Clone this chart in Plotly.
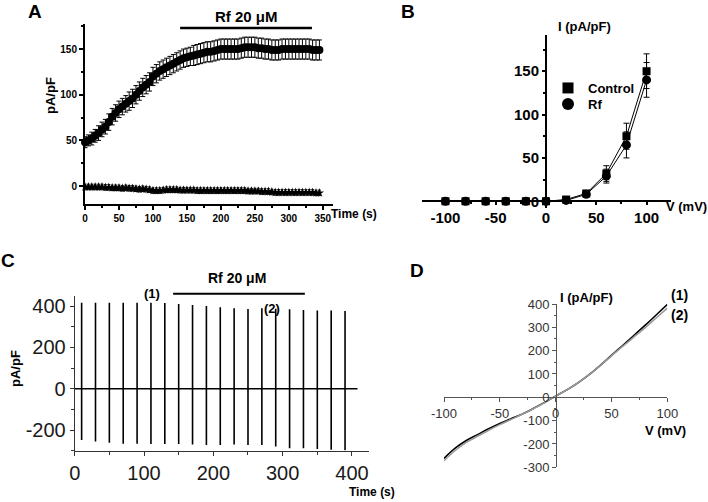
import plotly.graph_objects as go

W, H = 708, 502
FONT = "Arial, Liberation Sans, sans-serif"

# ---------------- Panel A data ----------------
time_a = [0, 5, 10, 15, 20, 25, 30, 35, 40, 45,
          50, 55, 60, 65, 70, 75, 80, 85, 90, 95,
          100, 105, 110, 115, 120, 125, 130, 135, 140, 145,
          150, 155, 160, 165, 170, 175, 180, 185, 190, 195,
          200, 205, 210, 215, 220, 225, 230, 235, 240, 245,
          250, 255, 260, 265, 270, 275, 280, 285, 290, 295,
          300, 305, 310, 315, 320, 325, 330, 335, 340, 345]
outward_a = [48, 50, 52, 55, 58, 62, 65, 70, 76, 80,
             84, 87, 90, 93, 96, 100, 104, 108, 111, 114,
             120, 123, 126, 128, 130, 132, 134, 136, 138, 140,
             141, 142, 143, 144, 145, 146, 147, 147, 148, 149,
             150, 150, 150, 150, 150, 150, 151, 152, 152, 152,
             152, 151, 151, 150, 150, 149, 149, 149, 150, 150,
             150, 150, 150, 150, 150, 150, 150, 149, 149, 149]
outward_err = [6, 6, 7, 7, 8, 8, 8, 9, 9, 9,
               9, 9, 9, 10, 10, 10, 10, 10, 10, 10,
               10, 10, 10, 10, 10, 10, 10, 10, 10, 10,
               10, 10, 11, 11, 11, 11, 11, 11, 11, 11,
               11, 11, 11, 11, 11, 11, 11, 11, 11, 11,
               11, 11, 11, 11, 11, 11, 11, 11, 11, 11,
               11, 11, 11, 11, 11, 11, 11, 11, 11, 11]
inward_a = [-1, -1, -1, -1, -1, -1, -1.5, -1.5, -2, -2,
            -2, -2.5, -2, -2.5, -2.5, -3, -3.5, -3, -3.5, -4,
            -5, -5, -5, -4.5, -4, -4, -4, -4, -4.5, -4.5,
            -4.5, -4.5, -4.5, -5, -5, -5, -5, -5, -5, -5,
            -5, -5, -5, -5, -5, -5, -5, -5, -5.5, -5.5,
            -5.5, -5.5, -6, -6, -6, -6.5, -7, -7, -7, -7,
            -7, -7, -7, -7, -7, -7, -7, -7, -7.5, -7.5]
inward_err = [3] * 70
rf_bar_a = [140, 334]
rf_bar_a_level = 173

# ---------------- Panel B data ----------------
volt_b = [-100, -80, -60, -40, -20, 0, 20, 40, 60, 80, 100]
control_b = [0, 0, 0, 0, 0, 0, 2, 9, 32, 75, 150]
control_err = [0, 0, 0, 0, 0, 0, 1, 2, 9, 15, 20]
rf_b = [0, 0, 0, 0, 0, 0, 1, 8, 29, 65, 140]
rf_err = [0, 0, 0, 0, 0, 0, 1, 2, 8, 15, 20]

# ---------------- Panel C data ----------------
spike_t = [10, 30, 50, 70, 90, 110, 130, 150, 170, 190,
           210, 230, 250, 270, 290, 310, 330, 350, 370, 390]
spike_top = [416, 416, 416, 416, 416, 416, 415, 410, 405, 400,
             394, 389, 386, 389, 387, 384, 381, 378, 378, 376]
spike_bot = [-248, -256, -262, -266, -266, -267, -267, -268, -270, -272,
             -272, -270, -272, -272, -280, -288, -288, -292, -296, -298]
trace_c_start, trace_c_end = 0, 408
rf_bar_c = [142, 332]

# ---------------- Panel D data ----------------
volt_d = [-100, -90, -80, -70, -60, -50, -40, -30, -20, -10,
          0, 10, 20, 30, 40, 50, 60, 70, 80, 90, 100]
iv1_d = [-262, -218, -185, -160, -135, -112, -92, -72, -48, -22,
         5, 32, 62, 97, 137, 180, 222, 265, 308, 353, 398]
iv2_d = [-272, -228, -193, -167, -141, -117, -95, -73, -49, -23,
         5, 32, 62, 97, 136, 178, 218, 258, 298, 340, 382]

# ---------------- tick labels (plain hyphen minus as in the figure) ----------------
ticks_b_x = [-100, -50, 0, 50, 100]
ticks_c_y = [-200, 0, 200, 400]
ticks_d_x = [-100, -50, 0, 50, 100]
ticks_d_y = [-300, -200, -100, 0, 100, 200, 300, 400]


def labels(vals):
    return [str(v) for v in vals]


def px(x):
    return x / W


def py(y):
    return 1 - y / H


fig = go.Figure()

# Panel A traces
fig.add_trace(go.Scatter(
    x=time_a, y=outward_a, mode="lines+markers", xaxis="x", yaxis="y",
    line=dict(color="black", width=2),
    marker=dict(symbol="circle", size=8, color="black"),
    error_y=dict(type="data", array=outward_err, color="black", thickness=1, width=2.5),
    cliponaxis=False, showlegend=False))
fig.add_trace(go.Scatter(
    x=time_a, y=inward_a, mode="lines+markers", xaxis="x", yaxis="y",
    line=dict(color="black", width=2),
    marker=dict(symbol="star", size=7, color="black"),
    error_y=dict(type="data", array=inward_err, color="black", thickness=1, width=1.5),
    cliponaxis=False, showlegend=False))

# Panel B traces
fig.add_trace(go.Scatter(
    x=volt_b, y=control_b, mode="lines+markers", xaxis="x2", yaxis="y2",
    line=dict(color="black", width=1),
    marker=dict(symbol="square", size=8, color="black"),
    error_y=dict(type="data", array=control_err, color="black", thickness=1, width=3),
    cliponaxis=False, showlegend=False))
fig.add_trace(go.Scatter(
    x=volt_b, y=rf_b, mode="lines+markers", xaxis="x2", yaxis="y2",
    line=dict(color="black", width=1),
    marker=dict(symbol="circle", size=9, color="black"),
    error_y=dict(type="data", array=rf_err, color="black", thickness=1, width=3),
    cliponaxis=False, showlegend=False))
fig.add_trace(go.Scatter(x=[None], y=[None], mode="markers", xaxis="x2", yaxis="y2",
                         name="Control", legend="legend",
                         marker=dict(symbol="square", size=11, color="black")))
fig.add_trace(go.Scatter(x=[None], y=[None], mode="markers", xaxis="x2", yaxis="y2",
                         name="Rf", legend="legend2",
                         marker=dict(symbol="circle", size=12, color="black")))

# Panel C trace (baseline with stimulation spikes)
xc, yc = [trace_c_start], [0]
for t, top, bot in zip(spike_t, spike_top, spike_bot):
    xc += [t, t, t, t]
    yc += [0, top, bot, 0]
xc.append(trace_c_end)
yc.append(0)
fig.add_trace(go.Scatter(x=xc, y=yc, mode="lines", xaxis="x3", yaxis="y3",
                         line=dict(color="black", width=1.6), showlegend=False,
                         cliponaxis=False))

# Panel D traces
fig.add_trace(go.Scatter(x=volt_d, y=iv1_d, mode="lines", xaxis="x4", yaxis="y4",
                         line=dict(color="black", width=1.6, shape="spline"), showlegend=False))
fig.add_trace(go.Scatter(x=volt_d, y=iv2_d, mode="lines", xaxis="x4", yaxis="y4",
                         line=dict(color="#9a9a9a", width=1.6, shape="spline"), showlegend=False))


def axis(**kw):
    base = dict(showgrid=False, zeroline=False, showline=True, linecolor="black",
                ticks="outside", tickcolor="black", layer="above traces", automargin=False)
    base.update(kw)
    return base


boldA = dict(family=FONT, size=10, color="black", weight="bold")
boldB = dict(family=FONT, size=15, color="black", weight="bold")
plainC = dict(family=FONT, size=20, color="#1a1a1a")
plainD = dict(family=FONT, size=13, color="#333333")
legfont = dict(family=FONT, size=13, color="black", weight="bold")

fig.update_layout(
    width=W, height=H, margin=dict(l=0, r=0, t=0, b=0, pad=0, autoexpand=False),
    paper_bgcolor="white", plot_bgcolor="white",
    font=dict(family=FONT, color="black"),
    showlegend=True,
    legend=dict(x=px(548), y=py(88), xanchor="left", yanchor="middle",
                font=legfont, bgcolor="rgba(0,0,0,0)", itemwidth=30),
    legend2=dict(x=px(548), y=py(104), xanchor="left", yanchor="middle",
                 font=legfont, bgcolor="rgba(0,0,0,0)", itemwidth=30),
    # Panel A
    xaxis=axis(domain=[px(85), px(333)], range=[0, 365], anchor="y",
               tick0=0, dtick=50, ticklen=4, tickwidth=1.5, linewidth=2,
               tickfont=boldA, minor=dict(dtick=25, ticks="outside", ticklen=2, tickcolor="black")),
    yaxis=axis(domain=[py(204.3), py(23.5)], range=[-20, 178], anchor="x",
               tick0=0, dtick=50, ticklen=4, tickwidth=1.5, linewidth=2,
               tickfont=boldA, minor=dict(dtick=25, ticks="outside", ticklen=2, tickcolor="black")),
    # Panel B
    xaxis2=axis(domain=[px(422.3), px(670.7)], range=[-123, 124], anchor="free",
                position=py(201.3), tickmode="array", tickvals=ticks_b_x,
                ticktext=labels(ticks_b_x), ticklen=3, tickwidth=1.5, linewidth=2,
                tickfont=boldB, minor=dict(dtick=25, ticks="outside", ticklen=2, tickcolor="black")),
    yaxis2=axis(domain=[py(208.2), py(34.8)], range=[-8, 192], anchor="free",
                position=px(546), tick0=0, dtick=50, ticklen=3, tickwidth=1.5, linewidth=2,
                tickfont=boldB, minor=dict(dtick=25, ticks="outside", ticklen=2, tickcolor="black")),
    # Panel C
    xaxis3=axis(domain=[px(74.7), px(369.3)], range=[0, 425], anchor="y3",
                tick0=0, dtick=100, ticklen=4, tickwidth=1, linewidth=1, linecolor="#333",
                tickcolor="#333", tickfont=plainC,
                minor=dict(dtick=50, ticks="outside", ticklen=3, tickcolor="#333")),
    yaxis3=axis(domain=[py(450.7), py(295.7)], range=[-300, 450], anchor="x3",
                tickmode="array", tickvals=ticks_c_y, ticktext=labels(ticks_c_y),
                ticklen=4, tickwidth=1, linewidth=1, linecolor="#333",
                tickcolor="#333", tickfont=plainC,
                minor=dict(dtick=100, ticks="outside", ticklen=3, tickcolor="#333")),
    # Panel D
    xaxis4=axis(domain=[px(444), px(667.3)], range=[-100, 100], anchor="free",
                position=py(397.3), tickmode="array", tickvals=ticks_d_x,
                ticktext=labels(ticks_d_x), ticklen=4, tickwidth=1, linewidth=1,
                linecolor="#555", tickcolor="#555", tickfont=plainD,
                minor=dict(dtick=25, ticks="outside", ticklen=2, tickcolor="#555")),
    yaxis4=axis(domain=[py(467.3), py(304)], range=[-300, 400], anchor="free",
                position=px(556), tickmode="array", tickvals=ticks_d_y,
                ticktext=labels(ticks_d_y), ticklen=4, tickwidth=1, linewidth=1,
                linecolor="#555", tickcolor="#555", tickfont=plainD,
                minor=dict(dtick=50, ticks="outside", ticklen=2, tickcolor="#555")),
)

# Treatment bars
fig.add_shape(type="line", xref="x", yref="y", x0=rf_bar_a[0], x1=rf_bar_a[1],
              y0=rf_bar_a_level, y1=rf_bar_a_level, line=dict(color="black", width=2.5))
fig.add_shape(type="line", xref="x3", yref="paper", x0=rf_bar_c[0], x1=rf_bar_c[1],
              y0=py(293.7), y1=py(293.7), line=dict(color="black", width=2))


def note(text, x, y, size=13, angle=0, color="black"):
    fig.add_annotation(text=text, x=px(x), y=py(y), xref="paper", yref="paper",
                       showarrow=False, textangle=angle, xanchor="center", yanchor="middle",
                       font=dict(family=FONT, size=size, color=color, weight="bold"))


# panel letters
note("A", 35, 12, 19)
note("B", 408, 12, 19)
note("C", 8, 260, 19)
note("D", 417, 270, 19)
# A
note("Rf 20 μM", 246, 17, 15)
note("pA/pF", 50, 96, 13, -90)
note("Time (s)", 354, 214, 12)
# B
note("I (pA/pF)", 584, 27, 13)
note("V (mV)", 686, 206, 13)
# C
note("(1)", 152, 293, 13)
note("Rf 20 μM", 237, 278, 14)
note("(2)", 272, 308, 13)
note("pA/pF", 15, 369, 13, -90)
note("Time (s)", 372, 492, 12)
# D
note("I (pA/pF)", 586, 297, 13)
note("(1)", 679, 295, 14)
note("(2)", 679, 315, 14)
note("V (mV)", 665, 430, 13)

fig.write_html("out.html", config={"displayModeBar": False},
               post_script="document.body.style.margin='0';document.body.style.overflow='hidden';")
